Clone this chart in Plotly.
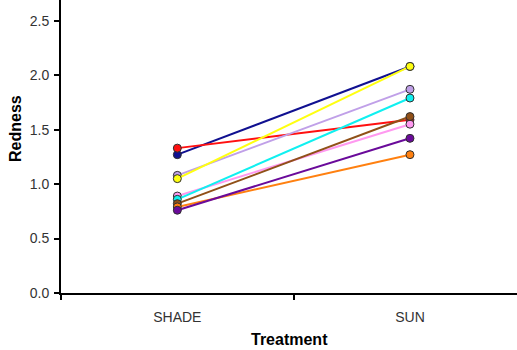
import plotly.graph_objects as go

# Paired redness measurements per plant, shade vs sun treatment
treatments = ["SHADE", "SUN"]
navy_vals = [1.27, 2.08]
red_vals = [1.33, 1.59]
lavender_vals = [1.08, 1.87]
yellow_vals = [1.05, 2.08]
pink_vals = [0.89, 1.55]
cyan_vals = [0.86, 1.79]
brown_vals = [0.82, 1.62]
orange_vals = [0.79, 1.27]
purple_vals = [0.76, 1.42]

series = [
    ("navy", navy_vals, "#101090"),
    ("red", red_vals, "#FF1010"),
    ("lavender", lavender_vals, "#C0A0E8"),
    ("yellow", yellow_vals, "#FFFF10"),
    ("pink", pink_vals, "#FF99F0"),
    ("cyan", cyan_vals, "#10F0F0"),
    ("brown", brown_vals, "#905018"),
    ("orange", orange_vals, "#FF8010"),
    ("purple", purple_vals, "#6A0A9A"),
]

fig = go.Figure()
for name, vals, col in series:
    fig.add_trace(go.Scatter(
        x=treatments, y=vals, name=name, mode="lines+markers",
        line=dict(color=col, width=2),
        marker=dict(color=col, size=8, symbol="circle",
                    line=dict(color="#303030", width=1)),
        showlegend=False,
    ))

fig.update_layout(
    width=517, height=350,
    margin=dict(l=61, r=0, t=0, b=57),
    plot_bgcolor="white", paper_bgcolor="white",
    font=dict(family="Arial, Liberation Sans, sans-serif", size=14, color="#333333"),
    xaxis=dict(
        type="category", range=[-0.5, 1.46],
        tickson="boundaries", ticks="outside", ticklen=5, tickwidth=2,
        tickcolor="black", showline=True, linecolor="black", linewidth=2,
        showgrid=False, zeroline=False, ticklabelstandoff=10,
        tickfont=dict(size=14, color="#333333"),
    ),
    yaxis=dict(
        range=[0, 2.69], tickvals=[0, 0.5, 1.0, 1.5, 2.0, 2.5], tickformat=".1f",
        ticks="outside", ticklen=5, tickwidth=2, tickcolor="black",
        showline=True, linecolor="black", linewidth=2,
        showgrid=False, zeroline=False, ticklabelstandoff=2,
        tickfont=dict(size=14, color="#333333"),
    ),
    annotations=[
        dict(text="<b>Redness</b>", textangle=-90, x=-0.101, y=0.563,
             xref="paper", yref="paper", showarrow=False,
             xanchor="center", yanchor="middle",
             font=dict(size=16, color="black")),
        dict(text="<b>Treatment</b>", x=0.5, y=-0.157,
             xref="paper", yref="paper", showarrow=False,
             xanchor="center", yanchor="middle",
             font=dict(size=16, color="black")),
    ],
)

fig.write_html("out.html")
